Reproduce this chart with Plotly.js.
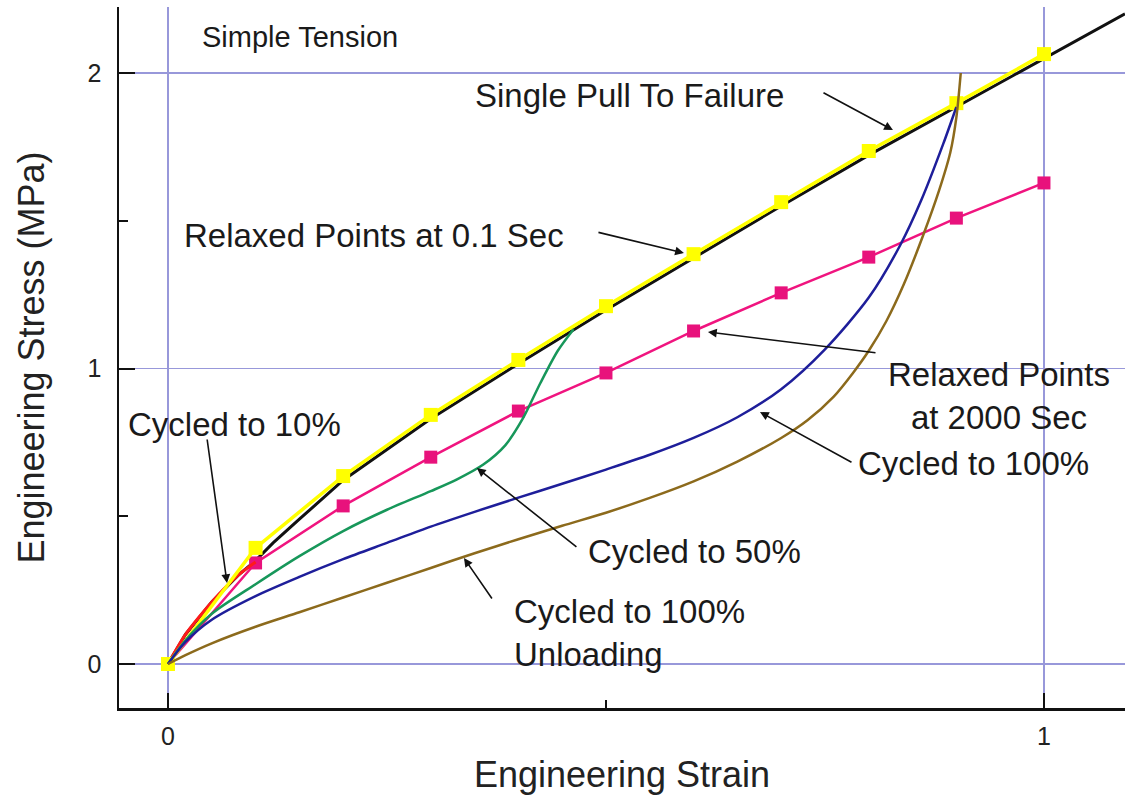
<!DOCTYPE html>
<html>
<head>
<meta charset="utf-8">
<script src="https://cdn.plot.ly/plotly-3.0.1.min.js"></script>
<style>html,body{margin:0;padding:0;background:#fff;}#chart{width:1125px;height:797px;}</style>
</head>
<body>
<div id="chart"></div>
<script>
// Relaxed points (0.1 s) - yellow
const relaxedX = [0, 0.1, 0.2, 0.3, 0.4, 0.5, 0.6, 0.7, 0.8, 0.9, 1.0];
const relaxedFastY = [0, 0.393, 0.636, 0.843, 1.029, 1.211, 1.387, 1.563, 1.736, 1.898, 2.064];
// Relaxed points (2000 s) - pink
const relaxedSlowY = [0, 0.342, 0.535, 0.700, 0.856, 0.985, 1.127, 1.256, 1.377, 1.509, 1.628];
// Single pull to failure - black
const pullX = [0, 0.02, 0.05, 0.08, 0.1, 0.12, 0.15, 0.2, 0.3, 0.4, 0.5, 0.6, 0.7, 0.8, 0.9, 1.0, 1.0925];
const pullY = [0, 0.1, 0.21, 0.3, 0.35, 0.41, 0.49, 0.622, 0.83, 1.016, 1.198, 1.374, 1.55, 1.722, 1.885, 2.05, 2.2];
// Cycled to 10% - red
const c10X = [0, 0.02, 0.05, 0.08, 0.1];
const c10Y = [0, 0.1, 0.21, 0.3, 0.345];
// Cycled to 50% - green
const c50X = [0, 0.02, 0.05, 0.1, 0.15, 0.2, 0.25, 0.3, 0.33, 0.36, 0.385, 0.405, 0.425, 0.445, 0.463];
const c50Y = [0, 0.08, 0.17, 0.27, 0.365, 0.45, 0.522, 0.585, 0.625, 0.675, 0.74, 0.83, 0.95, 1.06, 1.133];
// Cycled to 100% loading - blue
const c100X = [0, 0.02, 0.05, 0.1, 0.15, 0.2, 0.25, 0.3, 0.35, 0.4, 0.45, 0.5, 0.55, 0.6, 0.65, 0.7, 0.75, 0.8, 0.836, 0.86, 0.885, 0.9];
const c100Y = [0, 0.075, 0.15, 0.23, 0.295, 0.355, 0.41, 0.465, 0.515, 0.563, 0.61, 0.658, 0.708, 0.765, 0.835, 0.93, 1.065, 1.24, 1.418, 1.57, 1.76, 1.885];
// Cycled to 100% unloading - brown
const unloadX = [0, 0.02, 0.05, 0.1, 0.15, 0.2, 0.25, 0.3, 0.35, 0.4, 0.45, 0.5, 0.55, 0.6, 0.65, 0.7, 0.73, 0.76, 0.782, 0.8, 0.82, 0.84, 0.862, 0.88, 0.893, 0.9, 0.905];
const unloadY = [0, 0.03, 0.07, 0.126, 0.175, 0.225, 0.275, 0.325, 0.375, 0.422, 0.468, 0.512, 0.562, 0.618, 0.685, 0.765, 0.825, 0.905, 0.985, 1.06, 1.16, 1.285, 1.45, 1.6, 1.73, 1.85, 2.0];

const xTicks = [0, 1];
const yTicks = [0, 1, 2];

const traces = [
  {x: pullX, y: pullY, mode: 'lines', line: {color: '#111111', width: 3}, name: 'Single Pull To Failure'},
  {x: relaxedX, y: relaxedSlowY, mode: 'lines+markers', line: {color: '#f0147f', width: 2.5},
   marker: {symbol: 'square', size: 13, color: '#e8127c'}, name: 'Relaxed Points at 2000 Sec'},
  {x: c10X, y: c10Y, mode: 'lines', line: {color: '#ff1a1a', width: 3, shape: 'spline', smoothing: 0.6}, name: 'Cycled to 10%'},
  {x: relaxedX, y: relaxedFastY, mode: 'lines+markers', line: {color: '#ffff00', width: 3.5},
   marker: {symbol: 'square', size: 14, color: '#ffff00'}, name: 'Relaxed Points at 0.1 Sec'},
  {x: c50X, y: c50Y, mode: 'lines', line: {color: '#17975a', width: 2.5, shape: 'spline', smoothing: 0.8}, name: 'Cycled to 50%'},
  {x: c100X, y: c100Y, mode: 'lines', line: {color: '#1e1e9a', width: 2.5, shape: 'spline', smoothing: 0.8}, name: 'Cycled to 100%'},
  {x: unloadX, y: unloadY, mode: 'lines', line: {color: '#8c6a1c', width: 2.5, shape: 'spline', smoothing: 0.8}, name: 'Cycled to 100% Unloading'}
];

const txtFont = {family: 'Liberation Sans, Arial, Helvetica, sans-serif', size: 33, color: '#1a1a1a'};
function arrow(tx, ty, hx, hy) {
  return {x: hx, y: hy, ax: tx, ay: ty, axref: 'x', ayref: 'y', xref: 'x', yref: 'y', text: '',
    showarrow: true, arrowhead: 2, arrowsize: 1.1, arrowwidth: 1.6, arrowcolor: '#111', standoff: 0, startstandoff: 0};
}
function label(t, x, y, opts) {
  return Object.assign({x: x, y: y, xref: 'x', yref: 'y', text: t, showarrow: false, font: txtFont,
    xanchor: 'center', yanchor: 'middle'}, opts || {});
}

const annotations = [
  label('Simple Tension', 0.1507, 2.1218, {font: Object.assign({}, txtFont, {size: 29})}),
  label('Single Pull To Failure', 0.5263, 1.9255),
  label('Relaxed Points at 0.1 Sec', 0.2352, 1.4518),
  label('Cycled to 10%', 0.0765, 0.8122),
  label('Relaxed Points<br>at 2000 Sec', 0.9486, 0.9069),
  label('Cycled to 100%', 0.9201, 0.6802),
  label('Cycled to 50%', 0.6005, 0.3824),
  label('Cycled to 100%<br>Unloading', 0.3927, 0.105, {xanchor: 'left', align: 'left'}),
  arrow(0.7466, 1.9357, 0.8276, 1.8071),
  arrow(0.4897, 1.4619, 0.5890, 1.3909),
  arrow(0.0445, 0.7648, 0.0674, 0.2741),
  arrow(0.8094, 1.0525, 0.6164, 1.1235),
  arrow(0.7820, 0.6802, 0.6758, 0.8528),
  arrow(0.4680, 0.3926, 0.3527, 0.6633),
  arrow(0.3710, 0.2166, 0.3379, 0.3587)
];

const gridColor = 'rgb(152,152,218)';
const layout = {
  width: 1125, height: 797,
  margin: {l: 119, r: 0, t: 7, b: 89},
  paper_bgcolor: '#ffffff', plot_bgcolor: '#ffffff',
  showlegend: false,
  font: {family: 'Liberation Sans, Arial, Helvetica, sans-serif', color: '#222'},
  xaxis: {
    range: [-0.0559, 1.0925], tickvals: xTicks, ticktext: xTicks.map(String),
    showline: true, linecolor: '#111', linewidth: 2.5, mirror: false,
    ticks: 'inside', ticklen: 15, tickwidth: 2, tickcolor: '#111',
    showgrid: true, gridcolor: gridColor, gridwidth: 1.5,
    zeroline: true, zerolinecolor: gridColor, zerolinewidth: 1.5,
    tickfont: {size: 25, color: '#222'}, ticklabelstandoff: 4,
    minor: {tickvals: [0.5], ticks: 'inside', ticklen: 8, tickwidth: 2, tickcolor: '#111', showgrid: false},
    title: {text: 'Engineering Strain', font: {size: 36, color: '#222'}, standoff: 14},
    automargin: false, fixedrange: true
  },
  yaxis: {
    range: [-0.1489, 2.2234], tickvals: yTicks, ticktext: yTicks.map(String),
    showline: true, linecolor: '#111', linewidth: 2.5, mirror: false,
    ticks: 'inside', ticklen: 16, tickwidth: 2, tickcolor: '#111',
    showgrid: true, gridcolor: gridColor, gridwidth: 1.5,
    zeroline: true, zerolinecolor: gridColor, zerolinewidth: 1.5,
    tickfont: {size: 25, color: '#222'}, ticklabelstandoff: 10,
    minor: {tickvals: [0.5, 1.5], ticks: 'inside', ticklen: 9, tickwidth: 2, tickcolor: '#111', showgrid: false},
    title: {text: 'Engineering Stress (MPa)', font: {size: 36, color: '#222'}, standoff: 32},
    automargin: false, fixedrange: true
  },
  annotations: annotations
};

Plotly.newPlot('chart', traces, layout, {staticPlot: true, displayModeBar: false});
</script>
</body>
</html>
